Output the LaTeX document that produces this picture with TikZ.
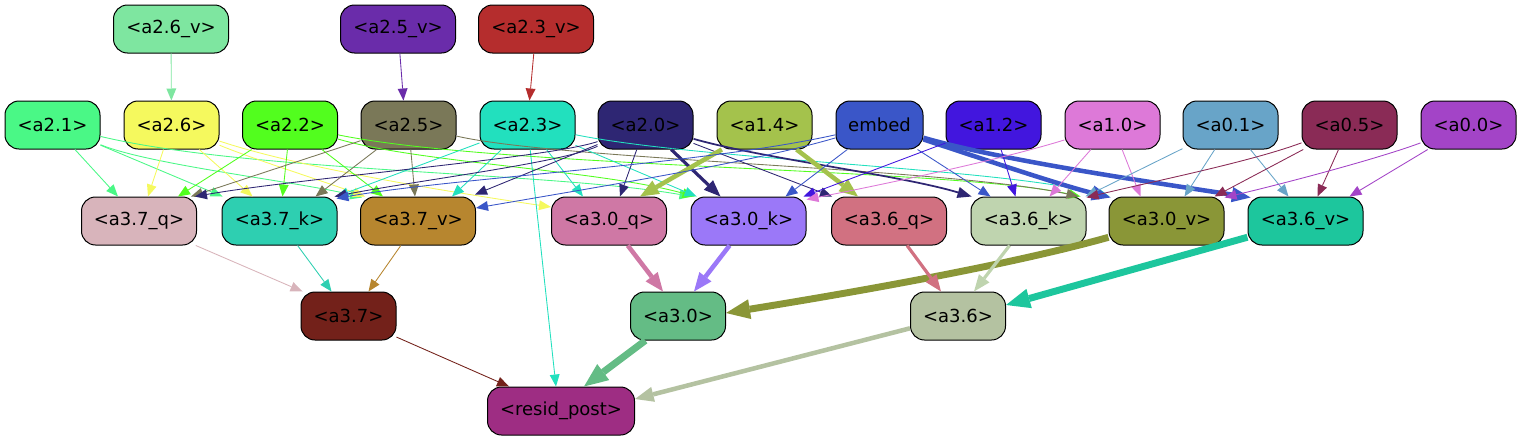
\documentclass[tikz,border=0pt]{standalone}
\usepackage{fontspec}
\setmainfont{DejaVu Sans}
\usetikzlibrary{arrows.meta,calc}
\definecolor{ca26v}{HTML}{7EE6A0}
\definecolor{ca25v}{HTML}{6A2CAA}
\definecolor{ca23v}{HTML}{B52D2D}
\definecolor{ca21}{HTML}{4AF886}
\definecolor{ca26}{HTML}{F5F95E}
\definecolor{ca22}{HTML}{52FE1E}
\definecolor{ca25}{HTML}{7A7858}
\definecolor{ca23}{HTML}{22E0BE}
\definecolor{ca20}{HTML}{2E2673}
\definecolor{ca14}{HTML}{A4C24C}
\definecolor{cemb}{HTML}{3A56C8}
\definecolor{ca12}{HTML}{4216DE}
\definecolor{ca10}{HTML}{DD79D8}
\definecolor{ca01}{HTML}{68A4C8}
\definecolor{ca05}{HTML}{8A2B56}
\definecolor{ca00}{HTML}{A344C7}
\definecolor{ca37q}{HTML}{D8B4BB}
\definecolor{ca37k}{HTML}{2ECFB1}
\definecolor{ca37v}{HTML}{B7862F}
\definecolor{ca30q}{HTML}{CF78A5}
\definecolor{ca30k}{HTML}{9B78F8}
\definecolor{ca36q}{HTML}{D17181}
\definecolor{ca36k}{HTML}{BFD4AF}
\definecolor{ca30v}{HTML}{8A9637}
\definecolor{ca36v}{HTML}{1DC69D}
\definecolor{ca37}{HTML}{73211A}
\definecolor{ca30}{HTML}{64BC85}
\definecolor{ca36}{HTML}{B4C2A1}
\definecolor{cres}{HTML}{9E2D83}
\tikzset{
  nd/.style={draw=black, line width=0.75pt, rounded corners=10.5pt, minimum height=36pt,
             inner sep=0pt, text=black, font=\fontsize{13.5pt}{16pt}\selectfont},
  ws/.style={minimum width=71.25pt},
  wl/.style={minimum width=86.25pt},
  ed/.style={draw=#1, line width=0.65pt, -{Triangle[length=9pt,width=7.5pt,line width=0pt]}},
  edm/.style={draw=#1, line width=1.3pt, -{Triangle[length=10.5pt,width=8.5pt,line width=0pt]}},
  edt/.style={draw=#1, line width=2.4pt, -{Triangle[length=12.5pt,width=10pt,line width=0pt]}},
  edT/.style={draw=#1, line width=3.4pt, -{Triangle[length=14pt,width=11.5pt,line width=0pt]}},
  edH/.style={draw=#1, line width=5.2pt, -{Triangle[length=18pt,width=15pt,line width=0pt]}},
}
\begin{document}
\begin{tikzpicture}[x=0.75pt,y=-0.75pt]
\useasboundingbox (0,0) rectangle (1521,443);
% row 0
\node[nd,wl,fill=ca26v] (a26v) at (171,29) {<a2.6\_v>};
\node[nd,wl,fill=ca25v] (a25v) at (398,29) {<a2.5\_v>};
\node[nd,wl,fill=ca23v] (a23v) at (536,29) {<a2.3\_v>};
% row 1
\node[nd,ws,fill=ca21] (a21) at (52.5,125) {<a2.1>};
\node[nd,ws,fill=ca26] (a26) at (171.5,125) {<a2.6>};
\node[nd,ws,fill=ca22] (a22) at (290,125) {<a2.2>};
\node[nd,ws,fill=ca25] (a25) at (408.5,125) {<a2.5>};
\node[nd,ws,fill=ca23] (a23) at (527.5,125) {<a2.3>};
\node[nd,ws,fill=ca20] (a20) at (645.5,125) {<a2.0>};
\node[nd,ws,fill=ca14] (a14) at (764.5,125) {<a1.4>};
\node[nd,minimum width=65.25pt,fill=cemb] (emb) at (879.5,125) {embed};
\node[nd,ws,fill=ca12] (a12) at (993.5,125) {<a1.2>};
\node[nd,ws,fill=ca10] (a10) at (1112.5,125) {<a1.0>};
\node[nd,ws,fill=ca01] (a01) at (1230.5,125) {<a0.1>};
\node[nd,ws,fill=ca05] (a05) at (1349.5,125) {<a0.5>};
\node[nd,ws,fill=ca00] (a00) at (1468.5,125) {<a0.0>};
% row 2
\node[nd,wl,fill=ca37q] (a37q) at (139,221) {<a3.7\_q>};
\node[nd,wl,fill=ca37k] (a37k) at (279.5,221) {<a3.7\_k>};
\node[nd,wl,fill=ca37v] (a37v) at (418,221) {<a3.7\_v>};
\node[nd,wl,fill=ca30q] (a30q) at (609,221) {<a3.0\_q>};
\node[nd,wl,fill=ca30k] (a30k) at (748.5,221) {<a3.0\_k>};
\node[nd,wl,fill=ca36q] (a36q) at (889,221) {<a3.6\_q>};
\node[nd,wl,fill=ca36k] (a36k) at (1028.5,221) {<a3.6\_k>};
\node[nd,wl,fill=ca30v] (a30v) at (1166.5,221) {<a3.0\_v>};
\node[nd,wl,fill=ca36v] (a36v) at (1305.5,221) {<a3.6\_v>};
% row 3
\node[nd,ws,fill=ca37] (a37) at (348.5,316) {<a3.7>};
\node[nd,ws,fill=ca30] (a30) at (678,316) {<a3.0>};
\node[nd,ws,fill=ca36] (a36) at (958,316) {<a3.6>};
% row 4
\node[nd,minimum width=110.25pt,fill=cres] (res) at (561,411) {<resid\_post>};

% row0 -> row1
\draw[ed=ca26v] (a26v) -- (a26);
\draw[ed=ca25v] (a25v) -- ($(a25.north)+(-5,0)$);
\draw[ed=ca23v] (a23v) -- ($(a23.north)+(2,0)$);
% a2.1
\draw[ed=ca21] (a21) -- ($(a37q.north)+(-21,0)$);
\draw[ed=ca21] (a21) -- ($(a37k.north)+(-57,0)$);
\draw[ed=ca21] (a21) .. controls (150,165) and (300,182) .. ($(a37v.north)+(-56,1)$);
\draw[ed=ca21] (a21) .. controls (250,172) and (550,172) .. ($(a30k.north)+(-57,0)$);
% a2.6
\draw[ed=ca26] (a26) -- ($(a37q.north)+(9,0)$);
\draw[ed=ca26] (a26) -- ($(a37k.north)+(-27,0)$);
\draw[ed=ca26] (a26) .. controls (250,158) and (320,180) .. ($(a37v.north)+(-53,0)$);
\draw[ed=ca26] (a26) .. controls (300,168) and (450,192) .. ($(a30q.west)+(0,-14)$);
% a2.2
\draw[ed=ca22] (a22) -- ($(a37q.north)+(39,0)$);
\draw[ed=ca22] (a22) -- ($(a37k.north)+(3,0)$);
\draw[ed=ca22] (a22) -- ($(a37v.north)+(-35,0)$);
\draw[ed=ca22] (a22) .. controls (420,163) and (600,170) .. ($(a30k.north)+(-54,0)$);
\draw[ed=ca22] (a22) .. controls (500,168) and (950,168) .. ($(a36k.north)+(52,0)$);
% a2.5
\draw[ed=ca25] (a25) -- ($(a37q.north)+(52,0)$);
\draw[ed=ca25] (a25) -- ($(a37k.north)+(36,0)$);
\draw[ed=ca25] (a25) -- ($(a37v.north)+(-3,0)$);
\draw[ed=ca25] (a25) .. controls (560,160) and (950,168) .. ($(a36k.north)+(50,0)$);
% a2.3
\draw[ed=ca23] (a23) -- ($(a37k.north)+(57,0)$);
\draw[ed=ca23] (a23) -- ($(a37v.north)+(34,0)$);
\draw[ed=ca23] (a23) -- ($(a30q.north)+(-26,0)$);
\draw[ed=ca23] (a23) -- ($(a30k.north)+(-52,0)$);
\draw[ed=ca23] (a23) .. controls (700,160) and (1000,168) .. ($(a30v.north)+(-57,0)$);
\draw[ed=ca23] (a23) -- ($(res.north)+(-5,0)$);
% a2.0
\draw[ed=ca20] (a20) .. controls (550,158) and (300,178) .. ($(a37q.north)+(56,0)$);
\draw[ed=ca20] (a20) .. controls (560,163) and (420,180) .. ($(a37k.north)+(55,0)$);
\draw[ed=ca20] (a20) -- ($(a37v.north)+(57,-2)$);
\draw[ed=ca20] (a20) -- ($(a30q.north)+(11,0)$);
\draw[edt=ca20] (a20) -- ($(a30k.north)+(-28,0)$);
\draw[ed=ca20] (a20) -- ($(a36q.north)+(-57,0)$);
\draw[edm=ca20] (a20) .. controls (760,158) and (900,175) .. ($(a36k.north)+(-57,0)$);
% a1.4
\draw[edT=ca14] (a14) -- ($(a30q.north)+(31,0)$);
\draw[edT=ca14] (a14) -- ($(a36q.north)+(-31,0)$);
% embed
\draw[ed=cemb] (emb) .. controls (700,165) and (450,178) .. ($(a37k.north)+(57,2)$);
\draw[ed=cemb] (emb) .. controls (760,160) and (640,180) .. ($(a37v.east)+(0,-13)$);
\draw[ed=cemb] (emb) -- ($(a30k.north)+(37,0)$);
\draw[ed=cemb] (emb) -- ($(a36k.north)+(-38,0)$);
\draw[edT=cemb] (emb) .. controls (980,158) and (1060,185) .. ($(a30v.north)+(-56,1)$);
\draw[edT=cemb] (emb) .. controls (1000,160) and (1150,182) .. ($(a36v.north)+(-55,1)$);
% a1.2
\draw[ed=ca12] (a12) -- ($(a30k.north)+(55,0)$);
\draw[ed=ca12] (a12) -- ($(a36k.north)+(-13,0)$);
% a1.0
\draw[ed=ca10] (a10) .. controls (1000,160) and (880,185) .. ($(a30k.north)+(58,3)$);
\draw[ed=ca10] (a10) -- ($(a36k.north)+(21,0)$);
\draw[ed=ca10] (a10) -- ($(a30v.north)+(-26,0)$);
% a0.1
\draw[ed=ca01] (a01) -- ($(a36k.north)+(57,0)$);
\draw[ed=ca01] (a01) -- ($(a30v.north)+(18,0)$);
\draw[ed=ca01] (a01) -- ($(a36v.north)+(-17,0)$);
% a0.5
\draw[ed=ca05] (a05) .. controls (1250,162) and (1150,182) .. ($(a36k.north)+(58,1)$);
\draw[ed=ca05] (a05) -- ($(a30v.north)+(48,0)$);
\draw[ed=ca05] (a05) -- ($(a36v.north)+(12,0)$);
% a0.0
\draw[ed=ca00] (a00) .. controls (1380,158) and (1290,182) .. ($(a30v.north)+(58,1)$);
\draw[ed=ca00] (a00) -- ($(a36v.north)+(44,0)$);
% row2 -> row3
\draw[ed=ca37q] (a37q) -- ($(a37.north)+(-46,0)$);
\draw[ed=ca37k] (a37k) -- ($(a37.north)+(-17,0)$);
\draw[ed=ca37v] (a37v) -- ($(a37.north)+(20,0)$);
\draw[edT=ca30q] (a30q) -- ($(a30.north)+(-15,0)$);
\draw[edT=ca30k] (a30k) -- ($(a30.north)+(16,0)$);
\draw[edH=ca30v] (a30v) .. controls (1010,265) and (850,293) .. ($(a30.east)+(0,-3)$);
\draw[edt=ca36q] (a36q) -- ($(a36.north)+(-17,0)$);
\draw[edt=ca36k] (a36k) -- ($(a36.north)+(16,0)$);
\draw[edH=ca36v] (a36v) -- ($(a36.east)+(0,-11)$);
% row3 -> resid
\draw[ed=ca37] (a37) -- ($(res.north)+(-52,0)$);
\draw[edH=ca30] (a30) -- ($(res.north)+(23,0)$);
\draw[edT=ca36] (a36) -- ($(res.east)+(0,-12)$);
\end{tikzpicture}
\end{document}
